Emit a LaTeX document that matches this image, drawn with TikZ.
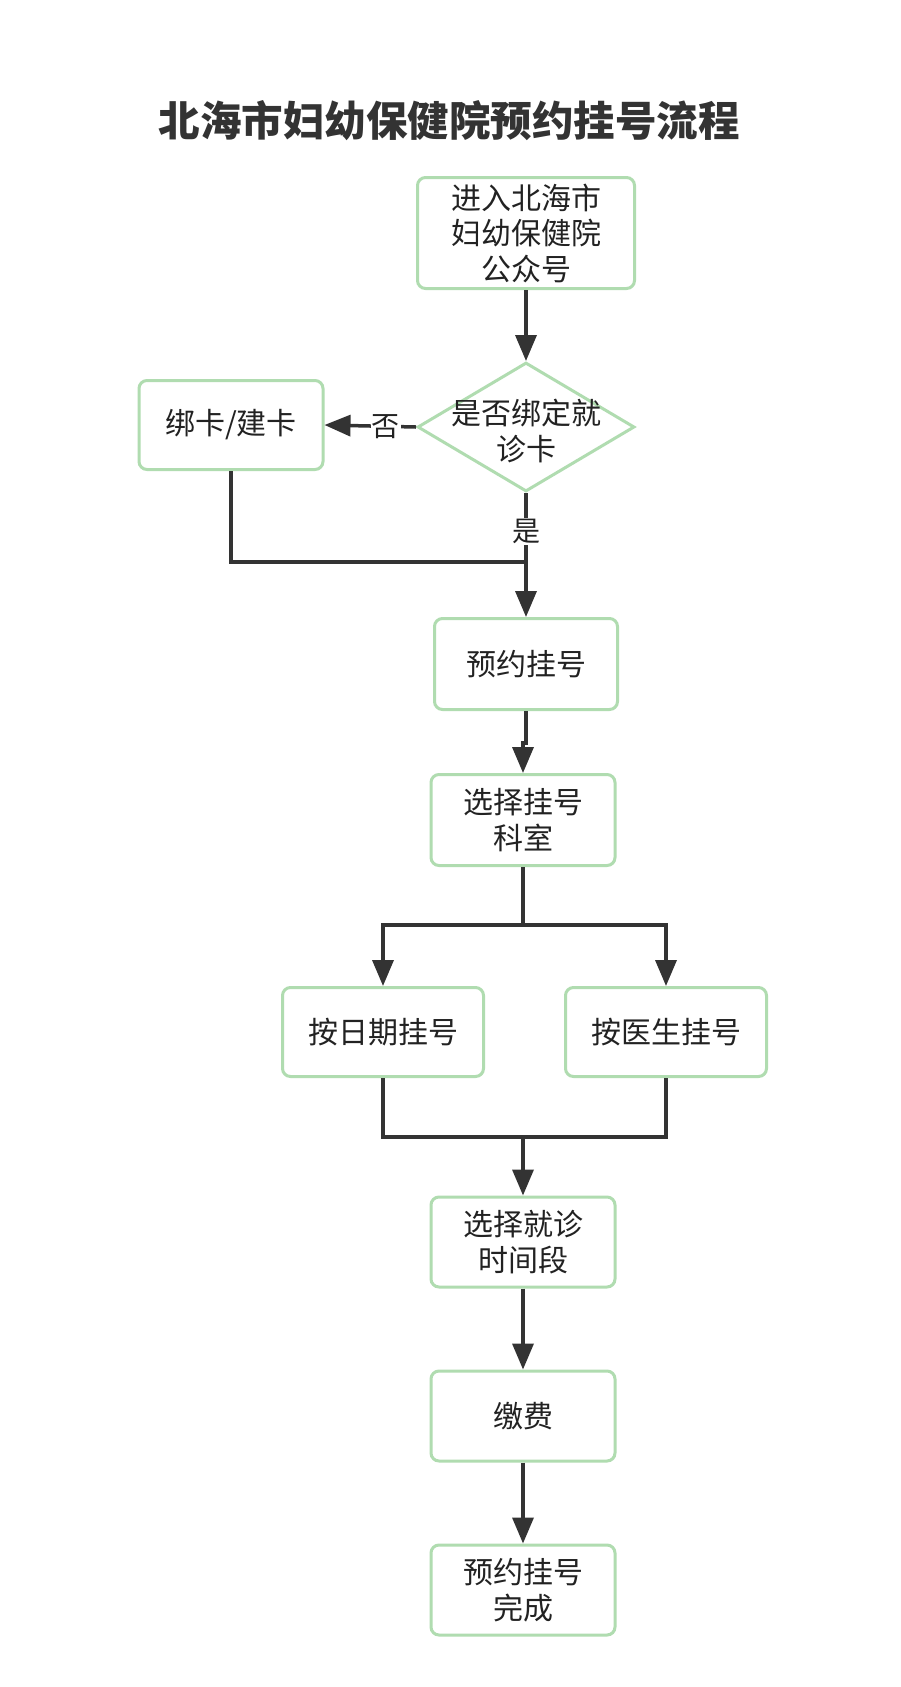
\documentclass[tikz,border=0pt]{standalone}
\usepackage{fontspec}
\setmainfont{Noto Sans CJK SC}
\usetikzlibrary{arrows.meta,shapes.geometric}
\definecolor{bordergreen}{RGB}{176,220,176}
\definecolor{linegray}{RGB}{51,51,51}
\definecolor{textgray}{RGB}{34,34,34}
\tikzset{
  x=1pt, y=-1pt,
  box/.style={draw=bordergreen, line width=3pt, rounded corners=8pt, fill=white,
    align=center, inner sep=0pt, text=textgray,
    font=\fontsize{30}{35.5}\selectfont},
  plain/.style={align=center, inner sep=0pt, text=textgray,
    font=\fontsize{30}{35.5}\selectfont},
  conn/.style={draw=linegray, line width=3.5pt},
  arr/.style={conn, -{Triangle[length=26pt,width=21pt]}},
  lbl/.style={fill=white, inner sep=1pt, text=textgray, font=\fontsize{28}{30}\selectfont},
}
\begin{document}
\begin{tikzpicture}
\useasboundingbox[fill=white] (0,0) rectangle (900,1687);
\node[font=\fontsize{41.5}{45}\selectfont\bfseries, text=linegray] (title) at (449,121) {北海市妇幼保健院预约挂号流程};

\node[box, minimum width=217pt, minimum height=111pt] (b1) at (526,233) {进入北海市\\妇幼保健院\\公众号};
\node[diamond, draw=bordergreen, line width=3pt, minimum width=217pt, minimum height=129pt, inner sep=0pt] (dia) at (526,427) {};
\node[plain] (diat) at (526,431) {是否绑定就\\诊卡};
\node[box, minimum width=184pt, minimum height=89pt] (b2) at (231,425) {绑卡/建卡};
\node[box, minimum width=183pt, minimum height=91pt] (b3) at (526,664) {预约挂号};
\node[box, minimum width=184pt, minimum height=91pt] (b4) at (523,820) {选择挂号\\科室};
\node[box, minimum width=201pt, minimum height=89pt] (b5) at (383,1032) {按日期挂号};
\node[box, minimum width=201pt, minimum height=89pt] (b6) at (666,1032) {按医生挂号};
\node[box, minimum width=184pt, minimum height=90pt] (b7) at (523,1242) {选择就诊\\时间段};
\node[box, minimum width=184pt, minimum height=90pt] (b8) at (523,1416) {缴费};
\node[box, minimum width=184pt, minimum height=90pt] (b9) at (523,1590) {预约挂号\\完成};

\coordinate (j1) at (526,562);
\coordinate (split) at (523,925);
\coordinate (merge) at (523,1137);

\draw[arr] (b1.south) -- (dia.north);
\draw[arr] (dia.west) -- node[lbl, pos=0.33] (no) {否} (b2.east);
\draw[arr] (dia.south) -- node[lbl, pos=0.31] (yes) {是} (b3.north);
\draw[conn] (b2.south) |- (j1);
\draw[arr] (b3.south) -- ++(0,32) -| (b4.north);
\draw[conn] (b4.south) -- (split);
\draw[arr] (split) -| (b5.north);
\draw[arr] (split) -| (b6.north);
\draw[conn] (b5.south) |- (merge);
\draw[conn] (b6.south) |- (merge);
\draw[arr] (merge) -- (b7.north);
\draw[arr] (b7.south) -- (b8.north);
\draw[arr] (b8.south) -- (b9.north);
\end{tikzpicture}
\end{document}
